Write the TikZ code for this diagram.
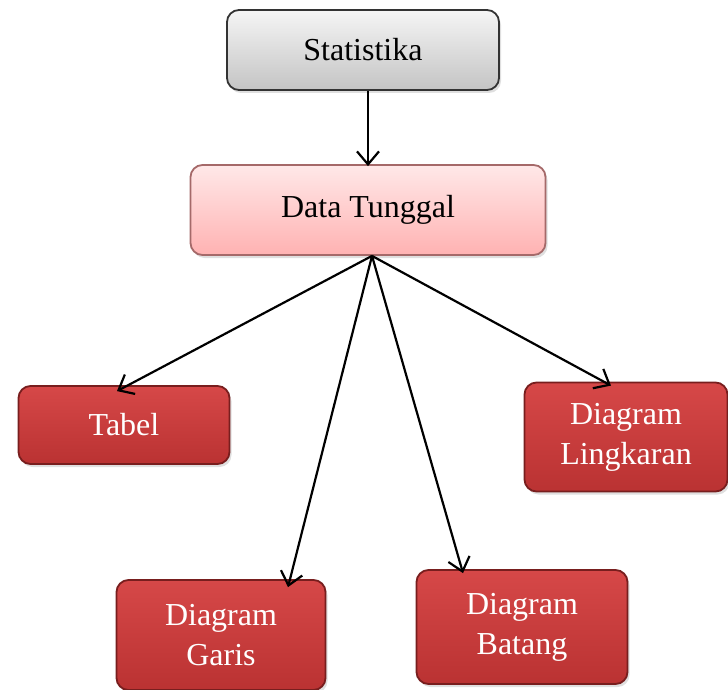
\documentclass[tikz,border=0pt]{standalone}
\usepackage{fontspec}
\setmainfont{Liberation Serif}
\usepackage{tikz}
\usetikzlibrary{calc,arrows.meta,shadows}
\definecolor{greytop}{RGB}{245,245,245}
\definecolor{greybot}{RGB}{196,196,196}
\definecolor{pinktop}{RGB}{255,232,232}
\definecolor{pinkbot}{RGB}{255,178,178}
\definecolor{pinkline}{RGB}{165,105,105}
\definecolor{redtop}{RGB}{214,72,72}
\definecolor{redbot}{RGB}{186,50,50}
\definecolor{redline}{RGB}{120,30,30}

\begin{document}
\begin{tikzpicture}[x=1pt,y=-1pt,
    box/.style={rounded corners=12pt, line width=1.8pt, inner sep=0pt, align=center,
      font=\fontsize{32}{40}\selectfont,
      drop shadow={opacity=0.25, shadow xshift=2pt, shadow yshift=-3pt}},
    redbox/.style={box, draw=redline, top color=redtop, bottom color=redbot, text=white},
    link/.style={-{Straight Barb[length=13pt,width=22pt]}, line width=2.2pt}]
  \useasboundingbox (0,0) rectangle (728,690);
  % boxes
  \node[box, draw=black!80, top color=greytop, bottom color=greybot, minimum width=272pt, minimum height=80pt] (stat) at (363,50) {Statistika};
  \node[box, draw=pinkline, top color=pinktop, bottom color=pinkbot, minimum width=355pt, minimum height=90pt] (tunggal) at (368,210) {Data Tunggal};
  \node[redbox, minimum width=211pt, minimum height=78pt] (tabel) at (124,425) {Tabel};
  \node[redbox, minimum width=203pt, minimum height=109pt] (lingkaran) at (626,437) {Diagram\\Lingkaran};
  \node[redbox, minimum width=209pt, minimum height=110pt] (garis) at (221,635) {Diagram\\Garis};
  \node[redbox, minimum width=211pt, minimum height=114pt] (batang) at (522,627) {Diagram\\Batang};
  % arrows
  \draw[link] ([xshift=5pt]stat.south) -- ([yshift=-2pt]tunggal.north);
  \draw[link] ([xshift=4pt]tunggal.south) -- ([xshift=-7pt,yshift=-6pt]tabel.north);
  \draw[link] ([xshift=4pt]tunggal.south) -- ([xshift=-15pt,yshift=-4pt]lingkaran.north);
  \draw[link] ([xshift=4pt]tunggal.south) -- ([xshift=67pt,yshift=-8pt]garis.north);
  \draw[link] ([xshift=4pt]tunggal.south) -- ([xshift=-59pt,yshift=-4pt]batang.north);
\end{tikzpicture}
\end{document}
